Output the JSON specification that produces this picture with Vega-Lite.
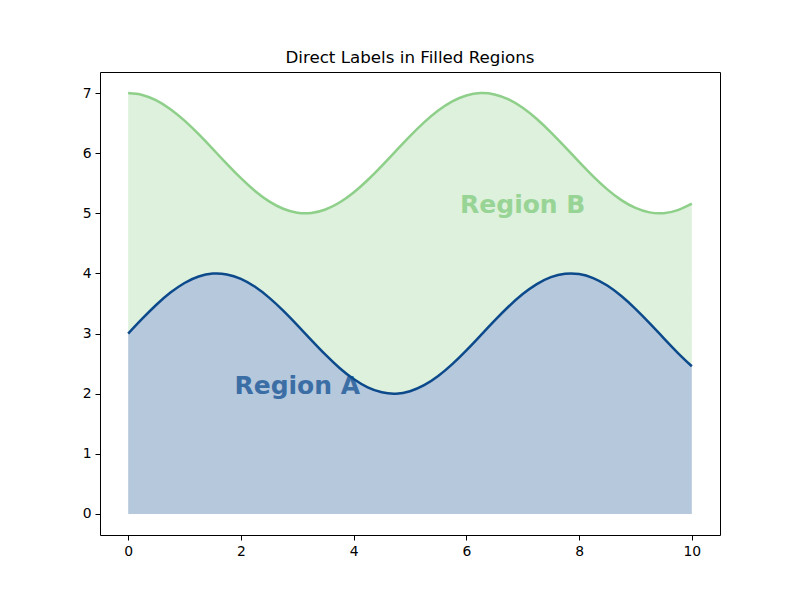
{
  "$schema": "https://vega.github.io/schema/vega-lite/v6.json",
  "width": 620,
  "height": 463,
  "autosize": {"type": "none"},
  "padding": {"left": 100, "top": 72, "right": 80, "bottom": 65},
  "background": "white",
  "config": {
    "font": "DejaVu Sans",
    "view": {"stroke": "black", "strokeWidth": 1},
    "axis": {
      "grid": false,
      "domain": false,
      "tickColor": "black",
      "tickSize": 5,
      "labelFontSize": 13.9,
      "labelColor": "black",
      "labelPadding": 4,
      "labelFont": "DejaVu Sans",
      "format": "d"
    }
  },
  "title": {
    "text": "Direct Labels in Filled Regions",
    "fontSize": 16.7,
    "fontWeight": "normal",
    "font": "DejaVu Sans",
    "color": "black",
    "offset": 5
  },
  "data": {
    "values": [
      {"x": 0, "a": 3.0, "b": 7.0},
      {"x": 0.25, "a": 3.2474, "b": 6.9689},
      {"x": 0.5, "a": 3.4794, "b": 6.8776},
      {"x": 0.75, "a": 3.6816, "b": 6.7317},
      {"x": 1.0, "a": 3.8415, "b": 6.5403},
      {"x": 1.25, "a": 3.949, "b": 6.3153},
      {"x": 1.5, "a": 3.9975, "b": 6.0707},
      {"x": 1.75, "a": 3.984, "b": 5.8218},
      {"x": 2.0, "a": 3.9093, "b": 5.5839},
      {"x": 2.25, "a": 3.7781, "b": 5.3718},
      {"x": 2.5, "a": 3.5985, "b": 5.1989},
      {"x": 2.75, "a": 3.3817, "b": 5.0757},
      {"x": 3.0, "a": 3.1411, "b": 5.01},
      {"x": 3.25, "a": 2.8918, "b": 5.0059},
      {"x": 3.5, "a": 2.6492, "b": 5.0635},
      {"x": 3.75, "a": 2.4284, "b": 5.1794},
      {"x": 4.0, "a": 2.2432, "b": 5.3464},
      {"x": 4.25, "a": 2.105, "b": 5.5539},
      {"x": 4.5, "a": 2.0225, "b": 5.7892},
      {"x": 4.75, "a": 2.0007, "b": 6.0376},
      {"x": 5.0, "a": 2.0411, "b": 6.2837},
      {"x": 5.25, "a": 2.1411, "b": 6.5121},
      {"x": 5.5, "a": 2.2945, "b": 6.7087},
      {"x": 5.75, "a": 2.4917, "b": 6.8612},
      {"x": 6.0, "a": 2.7206, "b": 6.9602},
      {"x": 6.25, "a": 2.9668, "b": 6.9994},
      {"x": 6.5, "a": 3.2151, "b": 6.9766},
      {"x": 6.75, "a": 3.45, "b": 6.893},
      {"x": 7.0, "a": 3.657, "b": 6.7539},
      {"x": 7.25, "a": 3.8231, "b": 6.5679},
      {"x": 7.5, "a": 3.938, "b": 6.3466},
      {"x": 7.75, "a": 3.9946, "b": 6.1042},
      {"x": 8.0, "a": 3.9894, "b": 5.8545},
      {"x": 8.25, "a": 3.9226, "b": 5.6142},
      {"x": 8.5, "a": 3.7985, "b": 5.398},
      {"x": 8.75, "a": 3.6247, "b": 5.2192},
      {"x": 9.0, "a": 3.4121, "b": 5.0889},
      {"x": 9.25, "a": 3.1743, "b": 5.0153},
      {"x": 9.5, "a": 2.9248, "b": 5.0028},
      {"x": 9.75, "a": 2.6805, "b": 5.0524},
      {"x": 10.0, "a": 2.456, "b": 5.1609}
    ]
  },
  "resolve": {"scale": {"color": "independent"}},
  "layer": [
    {
      "mark": {"type": "area", "color": "#8fd08a", "opacity": 0.3, "interpolate": "natural"},
      "encoding": {
        "x": {
          "field": "x",
          "type": "quantitative",
          "scale": {"domain": [-0.5, 10.5], "nice": false, "zero": false},
          "axis": {"values": [0, 2, 4, 6, 8, 10], "title": null}
        },
        "y": {
          "field": "a",
          "type": "quantitative",
          "scale": {"domain": [-0.35, 7.35], "nice": false, "zero": false},
          "axis": {"values": [0, 1, 2, 3, 4, 5, 6, 7], "title": null}
        },
        "y2": {"field": "b"}
      }
    },
    {
      "mark": {"type": "area", "color": "#0c4a8c", "opacity": 0.3, "interpolate": "natural"},
      "encoding": {
        "x": {"field": "x", "type": "quantitative"},
        "y": {"field": "a", "type": "quantitative", "stack": "zero"}
      }
    },
    {
      "data": {
        "values": [
          {"lx": 3.0, "ly": 2.13, "label": "Region A", "region": "A"},
          {"lx": 7.0, "ly": 5.13, "label": "Region B", "region": "B"}
        ]
      },
      "mark": {"type": "text", "fontSize": 25, "fontWeight": "bold", "font": "DejaVu Sans", "baseline": "middle", "align": "center"},
      "encoding": {
        "x": {"field": "lx", "type": "quantitative"},
        "y": {"field": "ly", "type": "quantitative"},
        "text": {"field": "label", "type": "nominal"},
        "color": {
          "field": "region",
          "type": "nominal",
          "scale": {"domain": ["A", "B"], "range": ["#3c6ea6", "#98d495"]},
          "legend": null
        }
      }
    },
    {
      "mark": {"type": "line", "color": "#8ecf89", "strokeWidth": 2.5, "interpolate": "natural"},
      "encoding": {
        "x": {"field": "x", "type": "quantitative"},
        "y": {"field": "b", "type": "quantitative"}
      }
    },
    {
      "mark": {"type": "line", "color": "#0c4a8c", "strokeWidth": 2.5, "interpolate": "natural"},
      "encoding": {
        "x": {"field": "x", "type": "quantitative"},
        "y": {"field": "a", "type": "quantitative"}
      }
    }
  ]
}
